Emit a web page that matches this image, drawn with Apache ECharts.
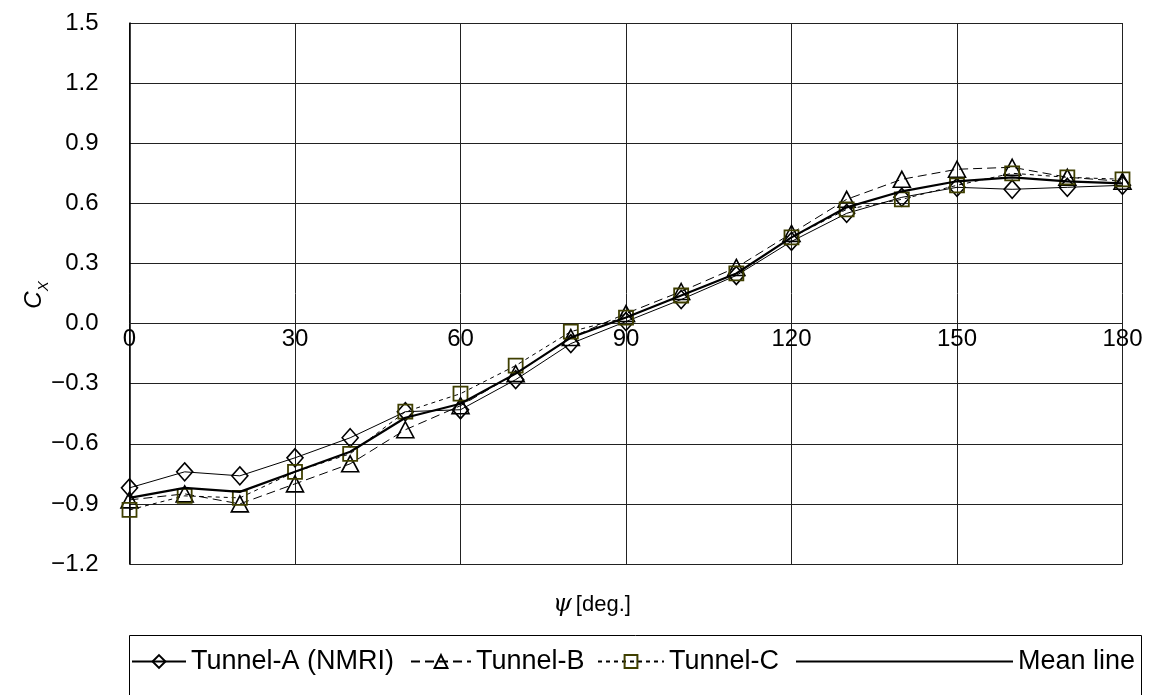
<!DOCTYPE html>
<html>
<head>
<meta charset="utf-8">
<script src="https://cdn.jsdelivr.net/npm/echarts@6/dist/echarts.min.js"></script>
<style>
  html, body { margin: 0; padding: 0; background: #fff; }
  #chart { width: 1149px; height: 695px; }
</style>
</head>
<body>
<div id="chart"></div>
<script>
// Yaw angle psi [deg]
const angles = [0, 10, 20, 30, 40, 50, 60, 70, 80, 90, 100, 110, 120, 130, 140, 150, 160, 170, 180];

// Longitudinal force coefficient Cx per facility
const tunnelA = [-0.82, -0.74, -0.76, -0.67, -0.57, -0.44, -0.43, -0.28, -0.10, 0.01, 0.12, 0.24, 0.41, 0.55, 0.63, 0.68, 0.67, 0.68, 0.69];
const tunnelB = [-0.88, -0.85, -0.90, -0.80, -0.70, -0.53, -0.41, -0.25, -0.07, 0.05, 0.16, 0.28, 0.45, 0.62, 0.72, 0.77, 0.78, 0.73, 0.71];
const tunnelC = [-0.93, -0.86, -0.87, -0.74, -0.65, -0.44, -0.35, -0.21, -0.04, 0.03, 0.14, 0.25, 0.43, 0.57, 0.62, 0.69, 0.75, 0.73, 0.72];
const meanLine = [-0.87, -0.82, -0.84, -0.74, -0.64, -0.47, -0.40, -0.25, -0.07, 0.03, 0.14, 0.25, 0.43, 0.58, 0.66, 0.71, 0.73, 0.71, 0.70];

const seriesNames = ['Tunnel-A (NMRI)', 'Tunnel-B', 'Tunnel-C', 'Mean line'];

const FONT = '"Liberation Sans", Arial, sans-serif';
const GRID_COLOR = '#222';

const X_MIN = 0, X_MAX = 180, X_STEP = 30;
const Y_MIN = -1.2, Y_MAX = 1.5, Y_STEP = 0.3;

const GRID = { left: 129.5, right: 26.5, top: 23, bottom: 131 };
const CHART_H = 695;
// the x axis (line and labels) sits on Cx = 0
const plotH = CHART_H - GRID.top - GRID.bottom;
const zeroOffset = -plotH * (0 - Y_MIN) / (Y_MAX - Y_MIN);

const pairs = vals => angles.map((a, i) => [a, vals[i]]);

const chart = echarts.init(document.getElementById('chart'), null, { renderer: 'canvas' });

const legendText = { color: '#000', fontSize: 27, fontFamily: FONT };
const legendBase = { top: 648, itemHeight: 16, itemGap: 0, selectedMode: false, textStyle: legendText, padding: 0 };

chart.setOption({
  animation: false,
  backgroundColor: '#fff',
  grid: Object.assign({ containLabel: false }, GRID),
  xAxis: {
    type: 'value',
    min: X_MIN, max: X_MAX, interval: X_STEP,
    offset: zeroOffset,
    axisLine: { show: true, onZero: false, lineStyle: { color: GRID_COLOR, width: 1 } },
    axisTick: { show: false },
    axisLabel: { color: '#000', fontSize: 24, fontFamily: FONT, margin: 4 },
    splitLine: { show: true, lineStyle: { color: GRID_COLOR, width: 1 } }
  },
  yAxis: {
    type: 'value',
    min: Y_MIN, max: Y_MAX, interval: Y_STEP,
    axisLine: { show: true, onZero: false, lineStyle: { color: '#000', width: 1.5 } },
    axisTick: { show: false },
    axisLabel: {
      color: '#000', fontSize: 24, fontFamily: FONT, margin: 31,
      formatter: v => v.toFixed(1).replace('-', '\u2212')
    },
    splitLine: { show: true, lineStyle: { color: GRID_COLOR, width: 1 } }
  },
  legend: [
    Object.assign({ left: 131, itemWidth: 54, data: [seriesNames[0]] }, legendBase),
    Object.assign({ left: 410, itemWidth: 60, data: [seriesNames[1]] }, legendBase),
    Object.assign({ left: 597, itemWidth: 66, data: [seriesNames[2]] }, legendBase),
    Object.assign({ left: 795, itemWidth: 217, data: [{ name: seriesNames[3], itemStyle: { opacity: 0 } }] }, legendBase)
  ],
  graphic: [
    {
      type: 'rect', left: 127, top: 633, silent: true,
      shape: { width: 1012, height: 70 },
      style: { fill: 'none', stroke: '#000', lineWidth: 1 }
    },
    {
      type: 'text', left: 553, top: 593, silent: true,
      style: {
        text: '{p|\u03C8}{d|[deg.]}',
        rich: {
          p: { fontFamily: '"DejaVu Serif", serif', fontStyle: 'italic', fontSize: 24, fill: '#000', padding: [0, 4, 0, 0] },
          d: { fontFamily: FONT, fontSize: 22, fill: '#000' }
        }
      }
    },
    {
      type: 'text', x: 34, y: 295, rotation: Math.PI / 2, silent: true,
      style: {
        text: '{c|C}{s|X}',
        align: 'center', verticalAlign: 'middle',
        rich: {
          c: { fontFamily: FONT, fontStyle: 'italic', fontSize: 24, fill: '#000', verticalAlign: 'bottom' },
          s: { fontFamily: FONT, fontStyle: 'italic', fontSize: 15, fill: '#000', verticalAlign: 'bottom', padding: [0, 0, -5, 0] }
        }
      }
    }
  ],
  series: [
    {
      name: seriesNames[0], type: 'line', data: pairs(tunnelA), z: 3,
      symbol: 'diamond', symbolSize: [16, 18],
      lineStyle: { color: '#000', width: 1, type: 'solid' },
      itemStyle: { color: 'rgba(0,0,0,0)', borderColor: '#000', borderWidth: 1.6 }
    },
    {
      name: seriesNames[1], type: 'line', data: pairs(tunnelB), z: 3,
      symbol: 'triangle', symbolSize: [17, 16],
      lineStyle: { color: '#000', width: 1, type: [9, 5] },
      itemStyle: { color: 'rgba(0,0,0,0)', borderColor: '#000', borderWidth: 1.6 }
    },
    {
      name: seriesNames[2], type: 'line', data: pairs(tunnelC), z: 3,
      symbol: 'rect', symbolSize: 14,
      lineStyle: { color: '#000', width: 1, type: [4, 4] },
      itemStyle: { color: 'rgba(0,0,0,0)', borderColor: '#3f3f00', borderWidth: 1.8 }
    },
    {
      name: seriesNames[3], type: 'line', data: pairs(meanLine), z: 4,
      symbol: 'none',
      itemStyle: { color: '#000' },
      lineStyle: { color: '#000', width: 2.2, type: 'solid' }
    }
  ]
});
</script>
</body>
</html>
